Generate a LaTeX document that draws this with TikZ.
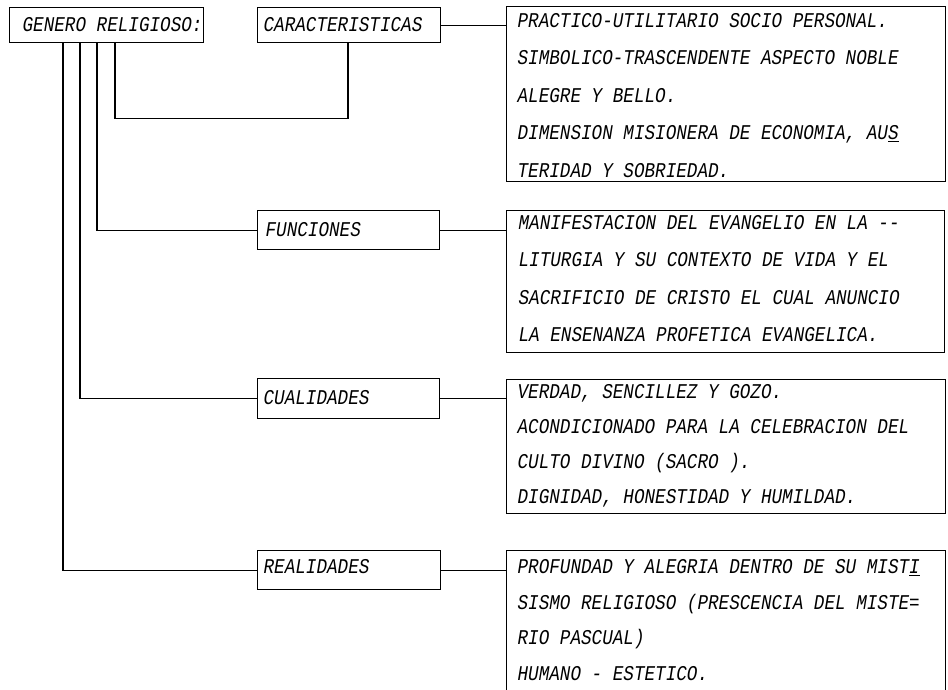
\documentclass[tikz,border=0pt]{standalone}
\usepackage{fontspec}
\newfontfamily\tw[FakeStretch=0.84]{Liberation Mono}
\begin{document}
\begin{tikzpicture}[x=1pt,y=-1pt,line width=1.2pt,
  box/.style={draw,rectangle,inner sep=0pt,anchor=north west},
  txt/.style={font=\tw\itshape\fontsize{21pt}{37.5pt}\selectfont,anchor=base west,inner sep=0pt,align=left},
  link/.style={draw,line width=1.2pt}]
\path[use as bounding box,fill=white] (0,0) rectangle (948,689);
\clip (0,0) rectangle (948,689);
% left column boxes
\node[box,minimum width=194pt,minimum height=35pt] (gen) at (9,7) {};
\node[txt] (gent) at (22,31.5) {GENERO RELIGIOSO:};
\node[box,minimum width=183pt,minimum height=35pt] (car) at (257,7) {};
\node[txt] (cart) at (263,31.5) {CARACTERISTICAS};
\node[box,minimum width=182pt,minimum height=39pt] (fun) at (257,210) {};
\node[txt] (funt) at (265,236.5) {FUNCIONES};
\node[box,minimum width=182pt,minimum height=40pt] (cua) at (257,378) {};
\node[txt] (cuat) at (263,404.5) {CUALIDADES};
\node[box,minimum width=183pt,minimum height=39pt] (rea) at (257,550) {};
\node[txt] (reat) at (263,573.5) {REALIDADES};
% detail boxes (text nodes anchored at the baseline of their last line)
\node[box,minimum width=439pt,minimum height=175pt] (d1) at (506,6) {};
\node[txt] (d1t) at (517,177) {PRACTICO-UTILITARIO SOCIO PERSONAL.\\
SIMBOLICO-TRASCENDENTE ASPECTO NOBLE\\
ALEGRE Y BELLO.\\
DIMENSION MISIONERA DE ECONOMIA, AU\underline{S}\\
TERIDAD Y SOBRIEDAD.};
\node[box,minimum width=438pt,minimum height=142pt] (d2) at (506,210) {};
\node[txt,font=\tw\itshape\fontsize{21pt}{37.3pt}\selectfont] (d2t) at (518,341.4) {MANIFESTACION DEL EVANGELIO EN LA -\kern0pt-\\
LITURGIA Y SU CONTEXTO DE VIDA Y EL\\
SACRIFICIO DE CRISTO EL CUAL ANUNCIO\\
LA ENSENANZA PROFETICA EVANGELICA.};
\node[box,minimum width=439pt,minimum height=134pt] (d3) at (506,379) {};
\node[txt,font=\tw\itshape\fontsize{21pt}{35pt}\selectfont] (d3t) at (517,503.5) {VERDAD, SENCILLEZ Y GOZO.\\
ACONDICIONADO PARA LA CELEBRACION DEL\\
CULTO DIVINO (SACRO ).\\
DIGNIDAD, HONESTIDAD Y HUMILDAD.};
\node[box,minimum width=439pt,minimum height=160pt] (d4) at (506,550) {};
\node[txt,font=\tw\itshape\fontsize{21pt}{35.5pt}\selectfont] (d4t) at (517,680) {PROFUNDAD Y ALEGRIA DENTRO DE SU MIST\underline{I}\\
SISMO RELIGIOSO (PRESCENCIA DEL MISTE=\\
RIO PASCUAL)\\
HUMANO - ESTETICO.};
% connectors to detail boxes
\draw[link] (car.east) -- (car.east -| d1.west);
\draw[link] (fun.east) -- (fun.east -| d2.west);
\draw[link] (cua.east) -- (cua.east -| d3.west);
\draw[link] (rea.east) -- (rea.east -| d4.west);
% tree from GENERO RELIGIOSO
\draw[link] ([xshift=106pt]gen.south west) -- ++(0,75) -| ([xshift=91pt]car.south west);
\draw[link] ([xshift=88pt]gen.south west) |- (fun.west);
\draw[link] ([xshift=71pt]gen.south west) |- (cua.west);
\draw[link] ([xshift=54pt]gen.south west) |- (rea.west);
\end{tikzpicture}
\end{document}
